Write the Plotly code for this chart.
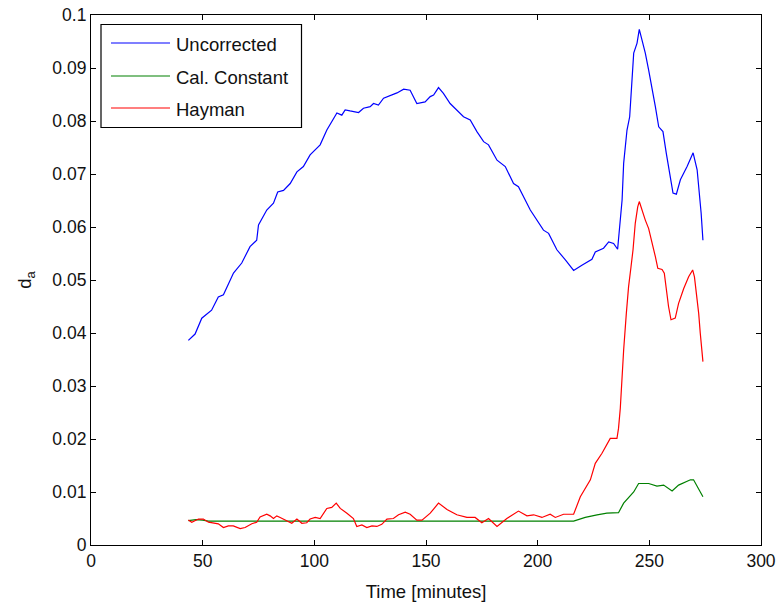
import plotly.graph_objects as go

# ---- data ----
t_unc = [43.6, 46.6, 49.6, 54, 57, 59.3, 63.8, 67.5, 71.2, 74.2, 75, 78.7, 81.7, 83.6, 86.2, 89.2,
         92.2, 95.1, 98.1, 102.6, 105.6, 109.3, 110.1, 112.3, 113.8, 116, 119.8, 122, 125, 126.5,
         128.7, 131, 137, 140, 142.9, 145.9, 149.6, 151.9, 153.4, 155.6, 157.8, 160.8, 162.3, 166.8,
         169.8, 172.8, 175.8, 178, 181.8, 185.5, 189.2, 191.4, 196.7, 199.7, 202.6, 204.9, 208.6,
         212.4, 216.1, 219.8, 224.3, 225.8, 229.5, 231.8, 234, 235.8, 237, 237.8, 238.5, 240, 241.2,
         241.9, 243, 244.5, 245.5, 246.7, 248.2, 249.7, 251.2, 252.7, 254.2, 256.1, 257.6, 259.4,
         260.6, 262.1, 263.9, 266.9, 269.6, 271.4, 272.5, 273.2, 274]
d_unc = [.0386, .0398, .0428, .0443, .0468, .0472, .0513, .0532, .0563, .0575, .0604, .0632, .0645,
         .0666, .0669, .0682, .0704, .0714, .0736, .0755, .0783, .0808, .0815, .0811, .0821, .0819,
         .0816, .0824, .0827, .0833, .0830, .0843, .0853, .0860, .0858, .0833, .0836, .0846, .0849,
         .0863, .0852, .0833, .0827, .0808, .0802, .0780, .0761, .0755, .0726, .0714, .0682, .0676,
         .0632, .0613, .0594, .0588, .0557, .0538, .0518, .0528, .0539, .0553, .0560, .0572, .0569,
         .0558, .0613, .0651, .0720, .0783, .0808, .0858, .0928, .0947, .0973, .0953, .0928, .0896,
         .0865, .0827, .0789, .0780, .0739, .0689, .0664, .0662, .0689, .0714, .0740, .0708, .0664,
         .0626, .0575]

t_cal = [43.6, 47, 50, 52.6, 216.1, 221.3, 226.6, 231, 236.2, 238.5, 243, 245.2, 249.7, 253.4,
         256.4, 260.2, 263.1, 268.4, 269.8, 274]
d_cal = [.0046, .0048, .0047, .0045, .0045, .0052, .0057, .0060, .0061, .0079, .0100, .0116, .0116,
         .0111, .0113, .0102, .0113, .0123, .0123, .0091]

t_hay = [43.6, 45.1, 48.1, 50.3, 52.6, 54.8, 57, 59.3, 61.5, 63.7, 66.8, 69, 72, 74.2, 75.7, 78.7,
         80.2, 81.7, 83.2, 84.7, 87.7, 89.9, 92.2, 94.4, 96.6, 98.1, 100.4, 102.6, 105.6, 107.8,
         109.8, 111.6, 114.6, 117.5, 119, 121.3, 123.5, 125.8, 128, 130.2, 132.5, 135.4, 137.7,
         140.7, 142.9, 145.9, 148.2, 151.9, 155.6, 159.4, 163.8, 168.3, 172, 175, 178, 181.8, 186.2,
         191.4, 195.2, 198.2, 201.9, 205.6, 207.9, 211.6, 216.1, 219.1, 223.6, 225.8, 228.8, 232.5,
         235.5, 236.2, 237, 237.8, 238.5, 239.7, 240.7, 241.8, 242.7, 243.7, 244.8, 245.5, 246.7,
         248.2, 249.7, 251.2, 252.7, 253.8, 255.7, 256.7, 257.6, 258.6, 259.7, 261.6, 263.1, 265.4,
         267.6, 269.4, 270.2, 271.4, 272.1, 272.8, 273.6, 274]
d_hay = [.0047, .0043, .0049, .0049, .0043, .0041, .0040, .0033, .0036, .0036, .0031, .0033, .0040,
         .0043, .0053, .0058, .0055, .0050, .0055, .0052, .0046, .0041, .0049, .0041, .0042, .0049,
         .0052, .0050, .0069, .0071, .0079, .0069, .0060, .0050, .0035, .0038, .0033, .0036, .0035,
         .0039, .0049, .0050, .0057, .0062, .0058, .0047, .0047, .0060, .0079, .0067, .0057, .0052,
         .0052, .0042, .0050, .0035, .0050, .0064, .0055, .0057, .0052, .0058, .0052, .0058, .0058,
         .0091, .0123, .0154, .0173, .0201, .0201, .0220, .0258, .0330, .0368, .0437, .0487, .0525,
         .0557, .0607, .0638, .0648, .0632, .0613, .0597, .0572, .0544, .0522, .0520, .0513, .0481,
         .0450, .0425, .0428, .0456, .0484, .0506, .0519, .0506, .0468, .0437, .0400, .0365, .0346]

names = ["Uncorrected", "Cal. Constant", "Hayman"]
colors = ["#0000ff", "#008000", "#ff0000"]
x_ticks = [0, 50, 100, 150, 200, 250, 300]
y_ticks = [0, 0.01, 0.02, 0.03, 0.04, 0.05, 0.06, 0.07, 0.08, 0.09, 0.1]
y_tick_text = ["0", "0.01", "0.02", "0.03", "0.04", "0.05", "0.06", "0.07", "0.08", "0.09", "0.1"]

FONT = "Liberation Sans, Arial, Helvetica, sans-serif"
W, H = 779, 604
ML, MR, MT, MB = 91, 18, 15, 59
PW, PH = W - ML - MR, H - MT - MB

fig = go.Figure()
for t, d, n, c in zip([t_unc, t_cal, t_hay], [d_unc, d_cal, d_hay], names, colors):
    fig.add_trace(go.Scatter(x=t, y=d, mode="lines", name=n, showlegend=False,
                             line=dict(color=c, width=1.2)))

def px(xp):
    return (xp - ML) / PW

def py(yp):
    return (H - MB - yp) / PH

# manual MATLAB-style legend box
shapes = [dict(type="rect", xref="paper", yref="paper", x0=px(101), x1=px(301.5),
               y0=py(127.5), y1=py(24.5), line=dict(color="black", width=1.2),
               fillcolor="white", layer="above")]
annotations = []
rows = [43, 76, 108]
for n, c, yr in zip(names, colors, rows):
    shapes.append(dict(type="line", xref="paper", yref="paper", x0=px(111), x1=px(170),
                       y0=py(yr), y1=py(yr), line=dict(color=c, width=1.2), layer="above"))
    annotations.append(dict(text=n, xref="paper", yref="paper", x=px(174), y=py(yr + 2),
                            xanchor="left", yanchor="middle", showarrow=False,
                            font=dict(family=FONT, size=18.5, color="#111")))

axis_common = dict(showgrid=False, zeroline=False, showline=True, linecolor="black",
                   linewidth=1.2, mirror="ticks", ticks="inside", ticklen=5,
                   tickcolor="black", tickwidth=1.2, automargin=False,
                   tickfont=dict(family=FONT, size=17.5, color="#111"))

fig.update_layout(
    width=W, height=H,
    margin=dict(l=ML, r=MR, t=MT, b=MB, pad=0, autoexpand=False),
    paper_bgcolor="white", plot_bgcolor="white",
    font=dict(family=FONT, size=17, color="#111"),
    xaxis=dict(range=[0, 300], tickvals=x_ticks, ticktext=[str(v) for v in x_ticks],
               title=dict(text="Time [minutes]", font=dict(family=FONT, size=18.5), standoff=14),
               **axis_common),
    yaxis=dict(range=[0, 0.1], tickvals=y_ticks, ticktext=y_tick_text,
               title=dict(text="d<sub>a</sub>", font=dict(family=FONT, size=18.5), standoff=15),
               **axis_common),
    shapes=shapes,
    annotations=annotations,
)

fig.write_html("out.html")
